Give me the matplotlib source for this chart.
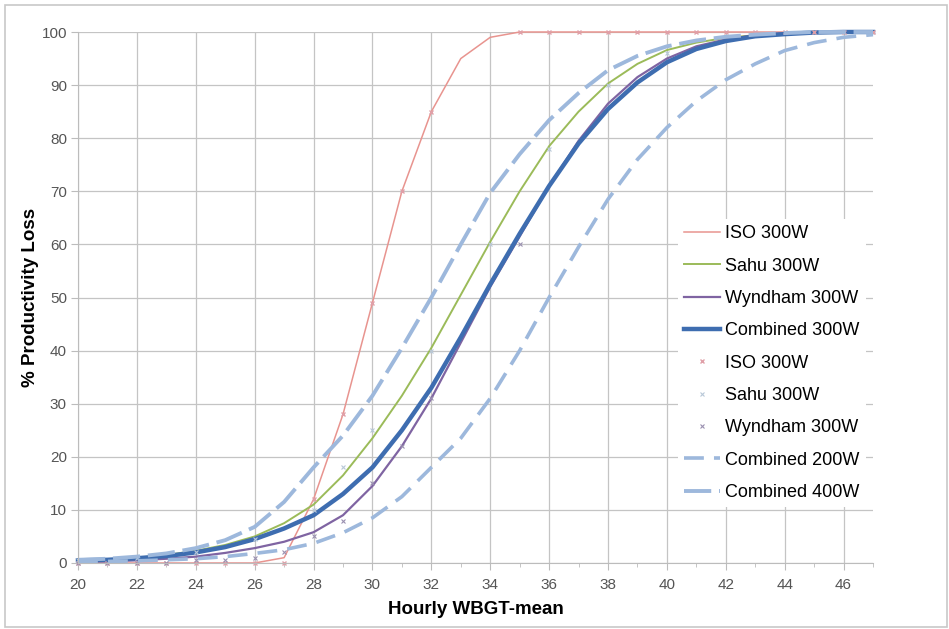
import matplotlib.pyplot as plt
from matplotlib.patches import Rectangle

plt.rcParams['font.family'] = ['Liberation Sans', 'DejaVu Sans']

# hourly WBGT-mean, one value per degree
wbgt = list(range(20, 48))

# fitted curves (% productivity loss)
iso_300 = [0, 0, 0, 0, 0, 0, 0, 1, 12, 28, 49, 70, 85, 95,
           99, 100, 100, 100, 100, 100, 100, 100, 100, 100, 100, 100, 100, 100]
sahu_300 = [0.5, 0.7, 1.0, 1.5, 2.3, 3.4, 5.0, 7.5, 11, 16.5, 23.5, 31.5, 40.5, 50.5,
            60.5, 70, 78.5, 85, 90.3, 94, 96.6, 98, 98.9, 99.4, 99.7, 99.9, 100, 100]
wyndham_300 = [0.2, 0.3, 0.5, 0.8, 1.2, 1.9, 2.8, 4.0, 5.8, 9.0, 14.5, 22, 31, 41.5,
               52, 61.5, 71, 79.5, 86.5, 91.5, 95, 97.3, 98.6, 99.4, 99.8, 100, 100, 100]
combined_300 = [0.5, 0.6, 0.9, 1.3, 2.0, 3.0, 4.5, 6.5, 9.0, 13.0, 18.0, 25.0, 33.0, 42.5,
                52.5, 62, 71, 79, 85.5, 90.5, 94.3, 96.8, 98.3, 99.2, 99.6, 99.9, 100, 100]
combined_200 = [0.2, 0.3, 0.4, 0.6, 0.8, 1.2, 1.8, 2.5, 3.7, 5.7, 8.5, 12.5, 18, 23.5,
                31, 40, 50, 59.5, 68.5, 76, 82, 87, 91, 94, 96.5, 98, 99, 99.5]
combined_400 = [0.6, 0.8, 1.2, 1.8, 2.8, 4.3, 6.8, 11.5, 18, 24, 31.5, 40.5, 50, 60,
                69.7, 77, 83.4, 88.5, 92.8, 95.5, 97.3, 98.4, 99.1, 99.5, 99.8, 100, 100, 100]

# observed points
iso_pts_x = [20, 21, 22, 23, 24, 25, 26, 27, 28, 29, 30, 31, 32, 35, 36, 37, 38, 39, 40,
             41, 42, 43, 44, 45, 46, 47]
iso_pts_y = [0, 0, 0, 0, 0, 0, 0, 0, 12, 28, 49, 70, 85, 100, 100, 100, 100, 100, 100,
             100, 100, 100, 100, 100, 100, 100]
sahu_pts_x = [20, 22, 24, 26, 28, 29, 30, 32, 34, 36, 38, 40]
sahu_pts_y = [0.5, 1, 2, 4.5, 10, 18, 25, 40, 60, 78, 90, 96]
wyndham_pts_x = [20, 21, 22, 23, 24, 25, 26, 27, 28, 29, 30, 31, 32, 35]
wyndham_pts_y = [0, 0, 0, 0, 0.5, 0.5, 1, 2, 5, 8, 15, 22, 31, 60]

fig = plt.figure(figsize=(9.49, 6.29), dpi=100)
fig.patches.append(Rectangle((5 / 949, 2 / 629), 942 / 949, 622 / 629, transform=fig.transFigure,
                             fill=False, edgecolor='#c8c8c8', lw=1.2))
ax = fig.add_axes([78 / 949, 1 - 563 / 629, 795 / 949, 531 / 629])

ax.plot(wbgt, iso_300, color='#E8948F', lw=1.1, label='ISO 300W', clip_on=False)
ax.plot(wbgt, sahu_300, color='#9BBB59', lw=1.4, label='Sahu 300W', clip_on=False)
ax.plot(wbgt, wyndham_300, color='#7F64A2', lw=1.6, label='Wyndham 300W', clip_on=False)
ax.plot(wbgt, combined_300, color='#3E6DB0', lw=3.2, label='Combined 300W', clip_on=False)
ax.plot(iso_pts_x, iso_pts_y, ls='none', marker='x', ms=3.5, mew=1,
        color='#E0A0A8', label='ISO 300W', clip_on=False)
ax.plot(sahu_pts_x, sahu_pts_y, ls='none', marker='x', ms=3, mew=0.8,
        color='#B8C8D8', label='Sahu 300W', clip_on=False)
ax.plot(wyndham_pts_x, wyndham_pts_y, ls='none', marker='x', ms=3, mew=0.8,
        color='#9A90B0', label='Wyndham 300W', clip_on=False)
ax.plot(wbgt, combined_200, color='#9DB8DC', lw=2.6, ls=(0, (5.5, 2.8)),
        label='Combined 200W', clip_on=False)
ax.plot(wbgt, combined_400, color='#9DB8DC', lw=2.8, ls=(0, (7, 2)),
        label='Combined 400W', clip_on=False)

ax.set_xlim(20, 47)
ax.set_ylim(0, 100)
ax.set_xticks(range(20, 47, 2))
ax.set_xticks(range(21, 48, 2), minor=True)
ax.set_yticks(range(0, 101, 10))
ax.grid(True, which='major', color='#c4c4c4', lw=0.9)
ax.set_axisbelow(True)
for s in ['top', 'right']:
    ax.spines[s].set_visible(False)
for s in ['left', 'bottom']:
    ax.spines[s].set_color('#bcbcbc')
ax.tick_params(axis='x', which='major', colors='#bcbcbc', labelcolor='#555555',
               labelsize=11, length=5, pad=6)
ax.tick_params(axis='y', which='major', colors='#bcbcbc', labelcolor='#555555',
               labelsize=11, length=5, pad=3)
ax.tick_params(axis='x', which='minor', colors='#bcbcbc', length=3)

ax.set_xlabel('Hourly WBGT-mean', fontsize=13.5, fontweight='bold', labelpad=6)
ax.set_ylabel('% Productivity Loss', fontsize=13.5, fontweight='bold')
ax.yaxis.set_label_coords(-0.049, 0.5)

leg = ax.legend(loc='upper left', bbox_to_anchor=(678 / 949, 1 - 219 / 629),
                bbox_transform=fig.transFigure, frameon=True, fontsize=13,
                handlelength=2.0, handletextpad=0.25, labelspacing=0.85,
                borderpad=0.35, borderaxespad=0)
leg.get_frame().set_facecolor('white')
leg.get_frame().set_edgecolor('none')
leg.get_frame().set_alpha(1)
leg.get_frame().set_boxstyle('square', pad=0)

fig.savefig('out.png', dpi=100)
